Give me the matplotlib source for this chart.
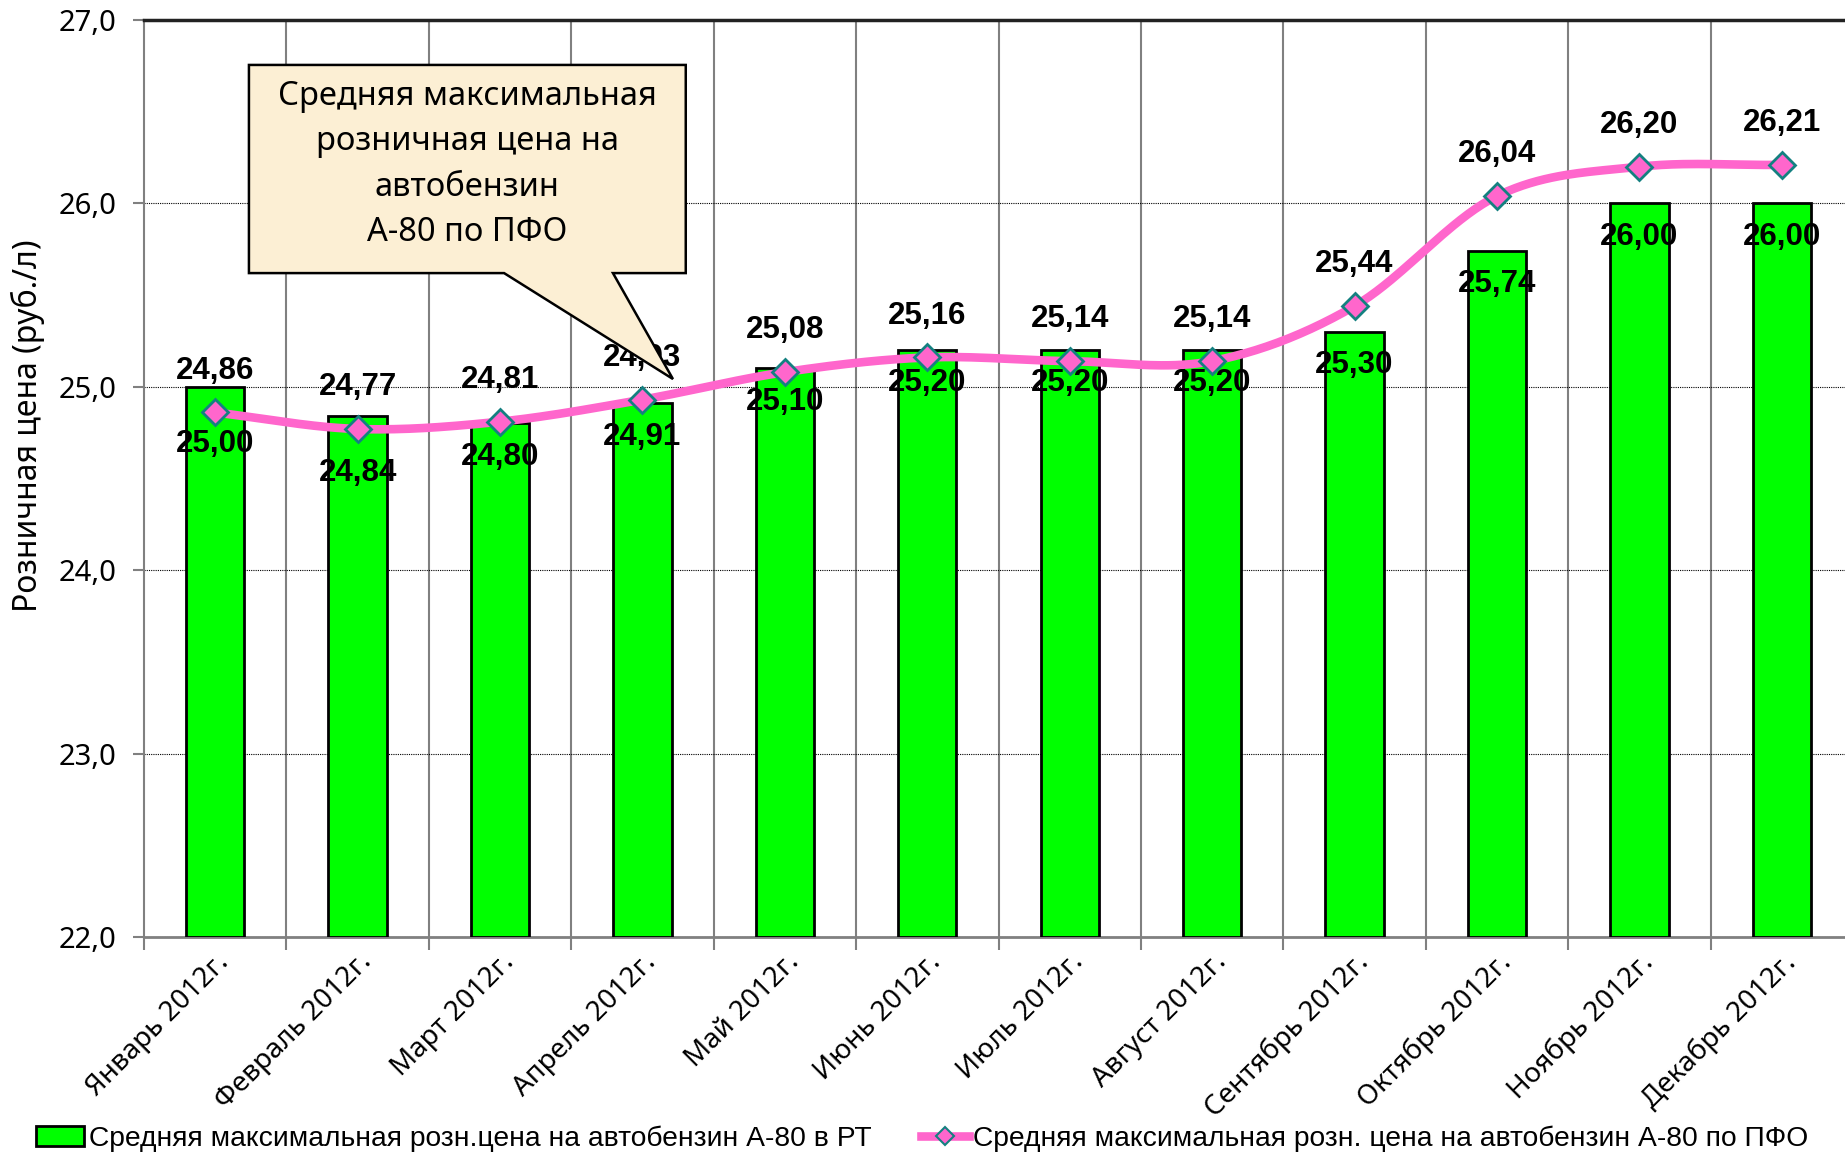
import numpy as np
import matplotlib.pyplot as plt
from matplotlib.patches import Polygon, Patch
from matplotlib.lines import Line2D
from matplotlib.ticker import FuncFormatter, FixedLocator
import matplotlib.transforms as mtransforms

months = ["Январь 2012г.", "Февраль 2012г.", "Март 2012г.", "Апрель 2012г.",
          "Май 2012г.", "Июнь 2012г.", "Июль 2012г.", "Август 2012г.",
          "Сентябрь 2012г.", "Октябрь 2012г.", "Ноябрь 2012г.", "Декабрь 2012г."]
price_rt = [25.00, 24.84, 24.80, 24.91, 25.10, 25.20, 25.20, 25.20, 25.30, 25.74, 26.00, 26.00]
price_pfo = [24.86, 24.77, 24.81, 24.93, 25.08, 25.16, 25.14, 25.14, 25.44, 26.04, 26.20, 26.21]

label_rt = "Средняя максимальная розн.цена на автобензин А-80 в РТ"
label_pfo = "Средняя максимальная розн. цена на автобензин А-80 по ПФО"
callout_text = "Средняя максимальная\nрозничная цена на\nавтобензин\nА-80 по ПФО"
ylabel = "Розничная цена (руб./л)"

GREEN = "#00FF00"
PINK = "#FF66CC"
TEAL = "#148080"
GRID = "#808080"
UI_FONT = ["Noto Sans", "DejaVu Sans"]
BOLD_FONT = ["Liberation Sans", "DejaVu Sans"]


def catmull(xs, ys, n=40):
    # smoothed line like excel's "smoothed" option
    xs = np.asarray(xs, float)
    ys = np.asarray(ys, float)
    px = np.concatenate([[2 * xs[0] - xs[1]], xs, [2 * xs[-1] - xs[-2]]])
    py = np.concatenate([[2 * ys[0] - ys[1]], ys, [2 * ys[-1] - ys[-2]]])
    ox, oy = [], []
    t = np.linspace(0, 1, n)
    for i in range(1, len(px) - 2):
        for arr, out in ((px, ox), (py, oy)):
            p0, p1, p2, p3 = arr[i - 1], arr[i], arr[i + 1], arr[i + 2]
            out.extend(0.5 * ((2 * p1) + (-p0 + p2) * t + (2 * p0 - 5 * p1 + 4 * p2 - p3) * t ** 2
                              + (-p0 + 3 * p1 - 3 * p2 + p3) * t ** 3))
    return np.array(ox), np.array(oy)


W, H = 1845, 1158
fig = plt.figure(figsize=(W / 100, H / 100), dpi=100)
fig.patch.set_facecolor("white")
ax = fig.add_axes([144 / W, 1 - 937 / H, 1709 / W, 917 / H])
ax.set_facecolor("none")

x = np.arange(len(months))
ax.bar(x, np.array(price_rt) - 22, bottom=22, width=0.41, color=GREEN,
       edgecolor="black", linewidth=2, zorder=3)
sx, sy = catmull(x, price_pfo)
ax.plot(sx, sy, color=PINK, linewidth=6.2, solid_capstyle="round", zorder=4)
ax.plot(x, price_pfo, linestyle="none", marker="D", markersize=13,
        markerfacecolor=PINK, markeredgecolor=TEAL, markeredgewidth=2, zorder=5)

# data labels
for i in range(len(x)):
    ax.annotate(f"{price_pfo[i]:.2f}".replace(".", ","), (x[i], price_pfo[i]),
                xytext=(0, 30), textcoords="offset points", ha="center", va="center",
                fontsize=22.5, fontweight="bold", family=BOLD_FONT, zorder=6)
    off = -41 if i in (0, 1) else -24
    ax.annotate(f"{price_rt[i]:.2f}".replace(".", ","), (x[i], price_rt[i]),
                xytext=(0, off), textcoords="offset points", ha="center", va="center",
                fontsize=22.5, fontweight="bold", family=BOLD_FONT, zorder=6)

ax.set_xlim(-0.5, len(months) - 0.5)
ax.set_ylim(22, 27)
ax.set_yticks([22, 23, 24, 25, 26, 27])
ax.yaxis.set_major_formatter(FuncFormatter(lambda v, p: f"{v:.1f}".replace(".", ",")))
ax.grid(axis="y", linestyle=(0, (1, 1)), color="black", linewidth=0.8, zorder=1)

ax.set_xticks(x)
ax.set_xticklabels(months, rotation=45, ha="right", rotation_mode="anchor",
                   fontsize=20, family=UI_FONT)
shift = mtransforms.ScaledTranslation(12 / 100, -14 / 100, fig.dpi_scale_trans)
for lab in ax.get_xticklabels():
    lab.set_transform(lab.get_transform() + shift)
ax.tick_params(axis="x", which="major", length=0, pad=8)
bounds = np.arange(-0.5, len(months), 1.0)
ax.xaxis.set_minor_locator(FixedLocator(bounds))
ax.tick_params(axis="x", which="minor", length=9, width=1.5, color=GRID)
for b in bounds[1:-1]:
    ax.axvline(b, color=GRID, linewidth=1.5, zorder=1)
ax.tick_params(axis="y", length=8, width=1.5, color=GRID, labelsize=21, pad=12)
for lab in ax.get_yticklabels():
    lab.set_family(UI_FONT)

ax.spines["left"].set_color(GRID)
ax.spines["left"].set_linewidth(1.5)
ax.spines["bottom"].set_color(GRID)
ax.spines["bottom"].set_linewidth(2)
ax.spines["top"].set_color("#222222")
ax.spines["top"].set_linewidth(2.5)
ax.spines["right"].set_visible(False)

ax.set_ylabel(ylabel, fontsize=23, family=UI_FONT)
ax.yaxis.set_label_coords(-0.058, 0.557)

# callout
L, R, T, B = 0.0614, 0.317, 0.951, 0.724
shape = [(L, B), (0.2107, B), (0.3095, 0.6085), (0.2744, B), (R, B), (R, T), (L, T)]
ax.add_patch(Polygon(shape, closed=True, transform=ax.transAxes, facecolor="#FCEFD4",
                     edgecolor="black", linewidth=1.8, zorder=7, clip_on=False))
ax.text((L + R) / 2, (T + B) / 2 + 0.005, callout_text, transform=ax.transAxes, ha="center",
        va="center", fontsize=23.5, family=UI_FONT, linespacing=1.5, zorder=8)

handles = [Patch(facecolor=GREEN, edgecolor="black", linewidth=2),
           Line2D([0], [0], color=PINK, linewidth=6.2, marker="D", markersize=9,
                  markerfacecolor=PINK, markeredgecolor=TEAL, markeredgewidth=1.5)]
fig.legend(handles, [label_rt, label_pfo], loc="center left", bbox_to_anchor=(0.006, 0.017),
           ncol=2, frameon=False, prop={"family": BOLD_FONT, "size": 20.3},
           handlelength=1.7, handletextpad=0.15, columnspacing=1.75)

fig.savefig("out.png", dpi=100)
